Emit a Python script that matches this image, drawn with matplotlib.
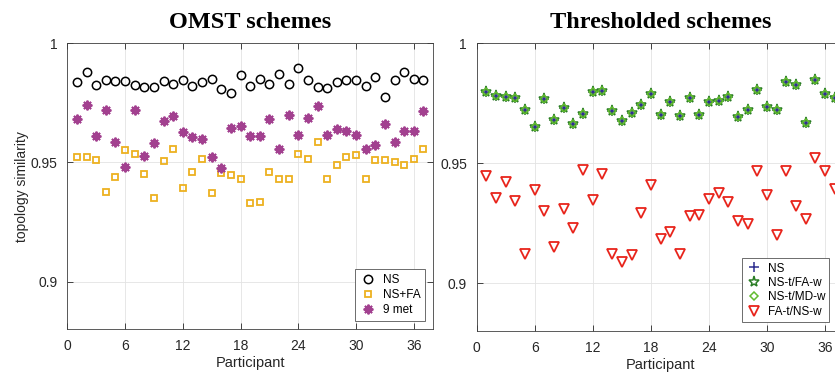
import matplotlib.pyplot as plt

# %%
# Data
# ------------------------

participants = list(range(1, 38))

omst_ns = [0.9836, 0.9878, 0.9825, 0.9846, 0.9842, 0.9842, 0.9825, 0.9816, 0.9816, 0.9842,
           0.9830, 0.9846, 0.9821, 0.9836, 0.9851, 0.9807, 0.9792, 0.9867, 0.9821, 0.9851,
           0.9830, 0.9872, 0.9830, 0.9895, 0.9846, 0.9816, 0.9812, 0.9836, 0.9846, 0.9846,
           0.9821, 0.9857, 0.9776, 0.9846, 0.9879, 0.9851, 0.9846]
omst_ns_fa = [0.9525, 0.9525, 0.9510, 0.9376, 0.9441, 0.9552, 0.9535, 0.9452, 0.9353, 0.9507,
              0.9556, 0.9392, 0.9459, 0.9515, 0.9374, 0.9454, 0.9447, 0.9429, 0.9330, 0.9333,
              0.9462, 0.9431, 0.9431, 0.9535, 0.9514, 0.9584, 0.9431, 0.9489, 0.9525, 0.9531,
              0.9431, 0.9510, 0.9510, 0.9501, 0.9490, 0.9515, 0.9556]
omst_9met = [0.9682, 0.9742, 0.9610, 0.9721, 0.9588, 0.9479, 0.9721, 0.9526, 0.9580, 0.9672,
             0.9695, 0.9627, 0.9605, 0.9597, 0.9521, 0.9476, 0.9645, 0.9654, 0.9610, 0.9610,
             0.9682, 0.9555, 0.9699, 0.9616, 0.9686, 0.9737, 0.9616, 0.9640, 0.9630, 0.9616,
             0.9555, 0.9573, 0.9661, 0.9587, 0.9630, 0.9630, 0.9717]

# NS, NS-t/FA-w and NS-t/MD-w sit on top of each other in the picture
thr_ns = [0.9798, 0.9780, 0.9776, 0.9771, 0.9721, 0.9653, 0.9767, 0.9680, 0.9732, 0.9665,
          0.9704, 0.9798, 0.9802, 0.9718, 0.9676, 0.9711, 0.9742, 0.9788, 0.9700, 0.9755,
          0.9698, 0.9771, 0.9701, 0.9755, 0.9761, 0.9778, 0.9693, 0.9721, 0.9807, 0.9736,
          0.9722, 0.9838, 0.9825, 0.9668, 0.9846, 0.9788, 0.9771]
thr_ns_t_fa_w = list(thr_ns)
thr_ns_t_md_w = list(thr_ns)
thr_fa_t_ns_w = [0.9447, 0.9357, 0.9422, 0.9343, 0.9121, 0.9389, 0.9303, 0.9150, 0.9308, 0.9230,
                 0.9472, 0.9347, 0.9457, 0.9122, 0.9089, 0.9118, 0.9294, 0.9408, 0.9185, 0.9215,
                 0.9121, 0.9280, 0.9283, 0.9350, 0.9375, 0.9337, 0.9261, 0.9246, 0.9467, 0.9368,
                 0.9201, 0.9467, 0.9322, 0.9269, 0.9522, 0.9467, 0.9392]

x_ticks = [0, 6, 12, 18, 24, 30, 36]
y_ticks = [0.9, 0.95, 1.0]
y_tick_labels = ["0.9", "0.95", "1"]

# %%
# Style
# -----

plt.rcParams["font.family"] = ["Liberation Sans", "DejaVu Sans"]
dark = "#262626"
title_font = dict(family="Liberation Serif", weight="bold", size=17.5)


def style_axes(ax):
    ax.set_xlim(0, 38)
    ax.set_ylim(0.88, 1.0)
    ax.set_xticks(x_ticks)
    ax.set_yticks(y_ticks)
    ax.set_yticklabels(y_tick_labels)
    ax.tick_params(direction="in", length=4, width=0.6, colors=dark,
                   labelsize=10, top=True, right=True, pad=7)
    ax.grid(True, color="#e3e3e3", linewidth=0.6)
    ax.set_axisbelow(True)
    for s in ax.spines.values():
        s.set_color("#404040")
        s.set_linewidth(0.6)
    ax.set_xlabel("Participant", fontsize=10.5, color=dark, labelpad=2)


fig = plt.figure(figsize=(8.35, 3.73), dpi=100)

# %%
# OMST schemes
# ------------

ax1 = fig.add_axes([0.0806, 0.1171, 0.438, 0.7668])
ax1.plot(participants, omst_ns, linestyle="none", marker="o", ms=6,
         mfc="none", mec="black", mew=1.1, label="NS")
ax1.plot(participants, omst_ns_fa, linestyle="none", marker="s", ms=5,
         mfc="none", mec="#EDB120", mew=1.3, label="NS+FA")
ax1.plot(participants, omst_9met, linestyle="none", marker=(8, 2, 0), ms=7,
         mec="#a2408f", mew=1.4, label="9 met")
style_axes(ax1)
ax1.set_ylabel("topology similarity", fontsize=10, color=dark)
ax1.yaxis.set_label_coords(-0.105, 0.5)
ax1.set_title("OMST schemes", fontdict=title_font, pad=11)
leg1 = ax1.legend(loc="lower right", bbox_to_anchor=(0.979, 0.03), borderaxespad=0,
                  fontsize=8.5, fancybox=False, framealpha=1, edgecolor="#555555",
                  handlelength=1.4, handletextpad=0.6, borderpad=0.4, labelspacing=0.25)
leg1.get_frame().set_linewidth(0.6)

# %%
# Thresholded schemes
# -------------------

ax2 = fig.add_axes([0.5709, 0.1118, 0.4403, 0.7721])
ax2.plot(participants, thr_ns, linestyle="none", marker="+", ms=7,
         mec="#2e2e8f", mew=1.1, label="NS")
ax2.plot(participants, thr_ns_t_fa_w, linestyle="none", marker="*", ms=8,
         mfc="none", mec="#2a7d25", mew=1.1, label="NS-t/FA-w")
ax2.plot(participants, thr_ns_t_md_w, linestyle="none", marker="D", ms=4.5,
         mfc="none", mec="#62bb2e", mew=1.1, label="NS-t/MD-w")
ax2.plot(participants, thr_fa_t_ns_w, linestyle="none", marker="v", ms=7,
         mfc="none", mec="#e8241b", mew=1.3, label="FA-t/NS-w")
style_axes(ax2)
ax2.set_title("Thresholded schemes", fontdict=title_font, pad=11)
leg2 = ax2.legend(loc="lower left", bbox_to_anchor=(0.7225, 0.033), borderaxespad=0,
                  fontsize=8.5, fancybox=False, framealpha=1, edgecolor="#555555",
                  handlelength=1.2, handletextpad=0.6, borderpad=0.35, labelspacing=0.2)
leg2.get_frame().set_linewidth(0.6)

fig.savefig("out.png", dpi=100)
